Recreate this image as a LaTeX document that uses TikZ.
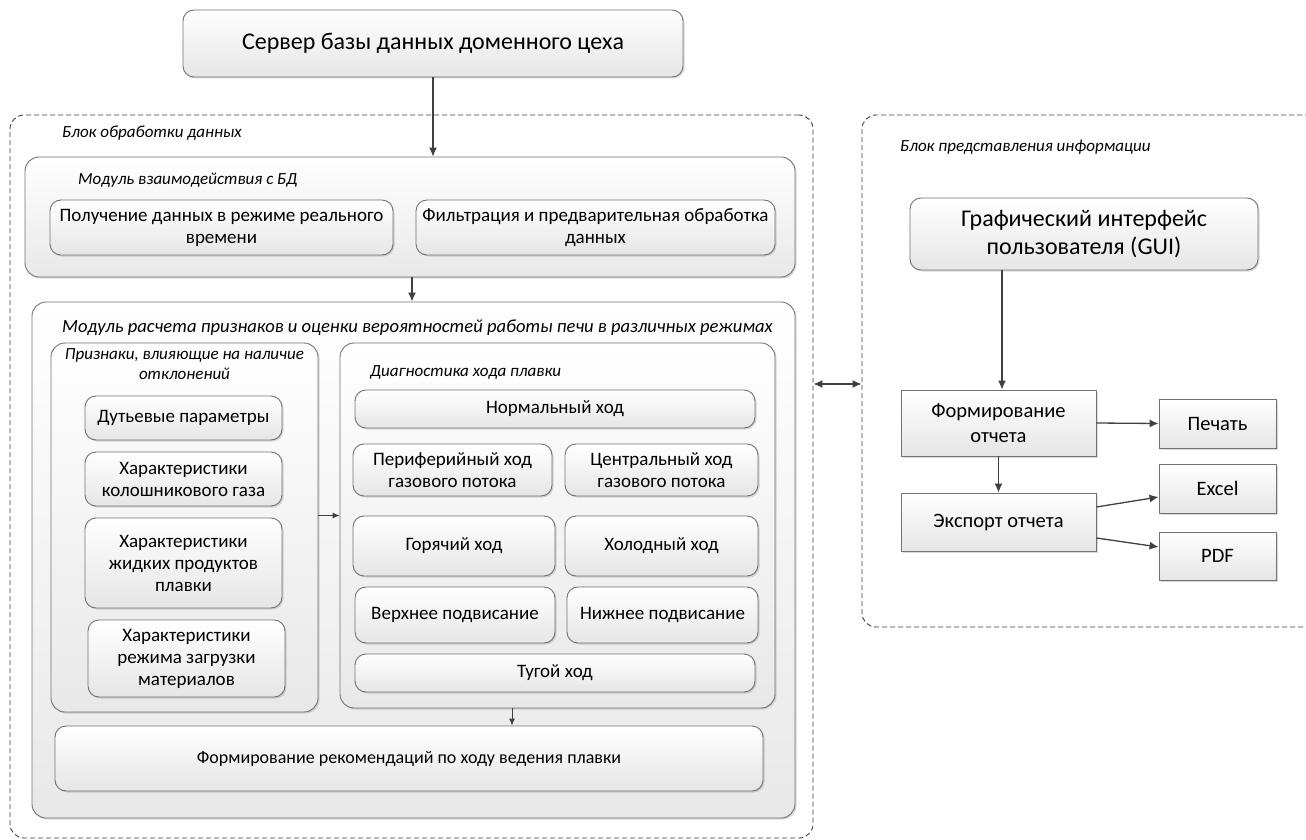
\documentclass[tikz,border=0pt]{standalone}
\usepackage{fontspec}
\setmainfont{Carlito}
\usetikzlibrary{shadows,arrows.meta}

\begin{document}
\begin{tikzpicture}[x=1pt,y=-1pt,
	every node/.style={font=\fontsize{19}{22}\selectfont, align=center},
	wh/.style 2 args={minimum width=#1pt, minimum height=#2pt},
	shd/.style={drop shadow={shadow xshift=1.5pt, shadow yshift=-1.5pt, opacity=0.3}},
	rbox/.style={draw=black!55, line width=0.9pt, rounded corners=11pt, top color=white, bottom color=black!10, inner sep=1pt, shd},
	sbox/.style={draw=black!55, line width=0.9pt, top color=white, bottom color=black!10, inner sep=1pt, shd, font=\fontsize{20.5}{25}\selectfont},
	grp/.style={draw=black!55, line width=0.9pt, rounded corners=14pt, top color=white, bottom color=black!9, shd},
	blk/.style={draw=black!75, line width=0.9pt, dash pattern=on 5pt off 3pt, rounded corners=14pt},
	lbl/.style={font=\itshape\fontsize{17}{20}\selectfont, anchor=west, inner sep=0pt},
	big/.style={font=\fontsize{24}{28}\selectfont},
	conn/.style={->, draw=black!75, line width=1.3pt}]
	\tikzset{>={Latex[length=9pt,width=8pt]}}
	\useasboundingbox[fill=white] (0,0) rectangle (1306,840);
	
	% outer blocks
	\node[blk, wh={803}{723}] (proc) at (411.5,476.5) {};
	\node[blk, wh={470}{512}] (pres) at (1097,371) {};
	\node[lbl] at (62,133) {Блок обработки данных};
	\node[lbl] at (900,147) {Блок представления информации};
	
	\node[rbox, wh={500}{67}, big] (srv) at (433,43.5) {Сервер базы данных доменного цеха};
	
	% module of DB interaction
	\node[grp, wh={770}{120}] (bd) at (410,217) {};
	\node[lbl] at (78,180) {Модуль взаимодействия с БД};
	\node[rbox, wh={343}{55}] (rt) at (221.5,227.5) {Получение данных в режиме реального\\времени};
	\node[rbox, wh={359}{55}] (filt) at (595.5,227.5) {Фильтрация и предварительная обработка\\данных};
	
	% module of calculation
	\node[grp, wh={763}{516}] (calc) at (413.5,560) {};
	\node[lbl, font=\itshape\fontsize{18.6}{22}\selectfont] at (62,328) {Модуль расчета признаков и оценки вероятностей работы печи в различных режимах};
	
	\node[grp, wh={267}{369}] (feat) at (184.5,527.5) {};
	\node[lbl, anchor=center, align=center] at (184.5,364) {Признаки, влияющие на наличие\\отклонений};
	\node[rbox, wh={197}{44}] (f1) at (183.5,418) {Дутьевые параметры};
	\node[rbox, wh={197}{54}] (f2) at (183.5,479) {Характеристики\\колошникового газа};
	\node[rbox, wh={197}{90}] (f3) at (183.5,563) {Характеристики\\жидких продуктов\\плавки};
	\node[rbox, wh={197}{77}] (f4) at (186.5,658.5) {Характеристики\\режима загрузки\\материалов};
	
	\node[grp, wh={435}{365}] (diag) at (557.5,525.5) {};
	\node[lbl] at (370,372) {Диагностика хода плавки};
	\node[rbox, wh={400}{38}] (d0) at (555,409) {Нормальный ход};
	\node[rbox, wh={199}{52}] (d1) at (452.5,470) {Периферийный ход\\газового потока};
	\node[rbox, wh={193}{52}] (d2) at (661.5,470) {Центральный ход\\газового потока};
	\node[rbox, wh={202}{60}] (d3) at (454,546) {Горячий ход};
	\node[rbox, wh={193}{60}] (d4) at (661.5,546) {Холодный ход};
	\node[rbox, wh={200}{56}] (d5) at (455,615) {Верхнее подвисание};
	\node[rbox, wh={191}{56}] (d6) at (662.5,615) {Нижнее подвисание};
	\node[rbox, wh={400}{38}] (d7) at (555,673) {Тугой ход};
	
	\node[rbox, wh={708}{65}, font=\fontsize{18}{22}\selectfont] (rec) at (409,758.5) {Формирование рекомендаций по ходу ведения плавки};
	
	% presentation block
	\node[rbox, wh={348}{72}, big] (gui) at (1084,234) {Графический интерфейс\\пользователя (GUI)};
	\node[sbox, wh={195}{66}] (form) at (998.5,423) {Формирование\\отчета};
	\node[sbox, wh={195}{58}] (exp) at (998.5,522) {Экспорт отчета};
	\node[sbox, wh={117}{49}] (prn) at (1217.5,423.5) {Печать};
	\node[sbox, wh={117}{49}] (xls) at (1217.5,488.5) {Excel};
	\node[sbox, wh={117}{48}] (pdf) at (1217.5,556) {PDF};
	
	% connectors
	\draw[conn] (srv.south) -- (srv.south |- bd.north);
	\draw[conn] ([xshift=2pt]bd.south) -- ([xshift=2pt]bd.south |- calc.north);
	\draw[conn, line width=0.9pt, -{Latex[length=7pt,width=6pt]}] ([yshift=12pt]feat.east) -- ([yshift=12pt]feat.east -| diag.west);
	\draw[conn, line width=0.9pt, -{Latex[length=7pt,width=6pt]}] ([xshift=-45.5pt]diag.south) -- ([xshift=-45.5pt]diag.south |- rec.north);
	\draw[conn, <->] ([yshift=92.5pt]proc.east) -- ([yshift=92.5pt]proc.east -| pres.west);
	\draw[conn] ([xshift=3.5pt]form.north |- gui.south) -- ([xshift=3.5pt]form.north);
	\draw[conn] (form.east) -- (prn.west);
	\draw[conn] (form.south) -- (exp.north);
	\draw[conn] ([yshift=15pt]exp.east) -- ([yshift=-8.5pt]xls.west);
	\draw[conn] ([yshift=-16pt]exp.east) -- ([yshift=9pt]pdf.west);
	
	%	\node[lbl] at (900,600) {};
\end{tikzpicture}
\end{document}
